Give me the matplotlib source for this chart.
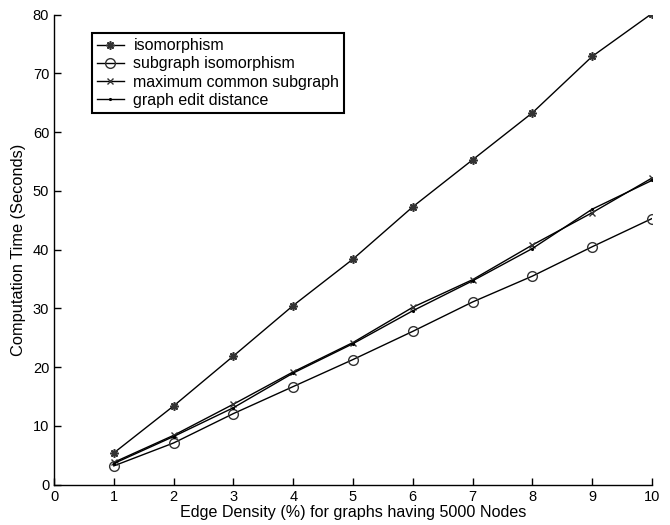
import matplotlib
matplotlib.use("Agg")
import matplotlib.pyplot as plt

plt.rcParams['font.family'] = ['Liberation Sans', 'DejaVu Sans']
plt.rcParams['font.size'] = 10

density = [1, 2, 3, 4, 5, 6, 7, 8, 9, 10]
iso = [5.4, 13.4, 21.9, 30.5, 38.4, 47.3, 55.3, 63.3, 72.9, 80.2]
subiso = [3.2, 7.1, 12.1, 16.7, 21.3, 26.1, 31.1, 35.5, 40.5, 45.3]
mcs = [3.8, 8.4, 13.7, 19.2, 24.2, 30.2, 34.9, 40.8, 46.3, 52.2]
ged = [3.6, 8.2, 13.1, 19.0, 24.0, 29.6, 34.7, 40.2, 46.9, 51.8]

fig = plt.figure(figsize=(6.7, 5.25), dpi=100)
ax = fig.add_axes([0.0806, 0.0768, 0.8925, 0.8952])

ax.plot(density, iso, color='k', lw=1, marker=(8, 2, 0), ms=6, mew=1.2, mec='#333333', label='isomorphism')
ax.plot(density, subiso, color='k', lw=1, marker='o', ms=7, mfc='none', mew=1, mec='#333333', label='subgraph isomorphism')
ax.plot(density, mcs, color='k', lw=1, marker='x', ms=5, mew=1, mec='#333333', label='maximum common subgraph')
ax.plot(density, ged, color='k', lw=1, marker='.', ms=2.5, label='graph edit distance')

ax.set_xlim(0, 10)
ax.set_ylim(0, 80)
ax.set_xticks(range(0, 11))
ax.set_yticks(range(0, 81, 10))
ax.tick_params(direction='in', length=5, width=1, colors='k', labelsize=10.5)
ax.spines['top'].set_visible(False)
ax.spines['right'].set_visible(False)
for s in ['left', 'bottom']:
    ax.spines[s].set_linewidth(1)
ax.set_xlabel('Edge Density (%) for graphs having 5000 Nodes', fontsize=11.6, labelpad=1)
ax.set_ylabel('Computation Time (Seconds)', fontsize=11.8, labelpad=5)

leg = ax.legend(loc='upper left', bbox_to_anchor=(0.05, 0.977), fancybox=False,
                edgecolor='k', framealpha=1, borderpad=0.3, labelspacing=0.2,
                handlelength=1.7, handletextpad=0.6, fontsize=11.5)
leg.get_frame().set_linewidth(1.5)

fig.savefig('out.png', dpi=100)
